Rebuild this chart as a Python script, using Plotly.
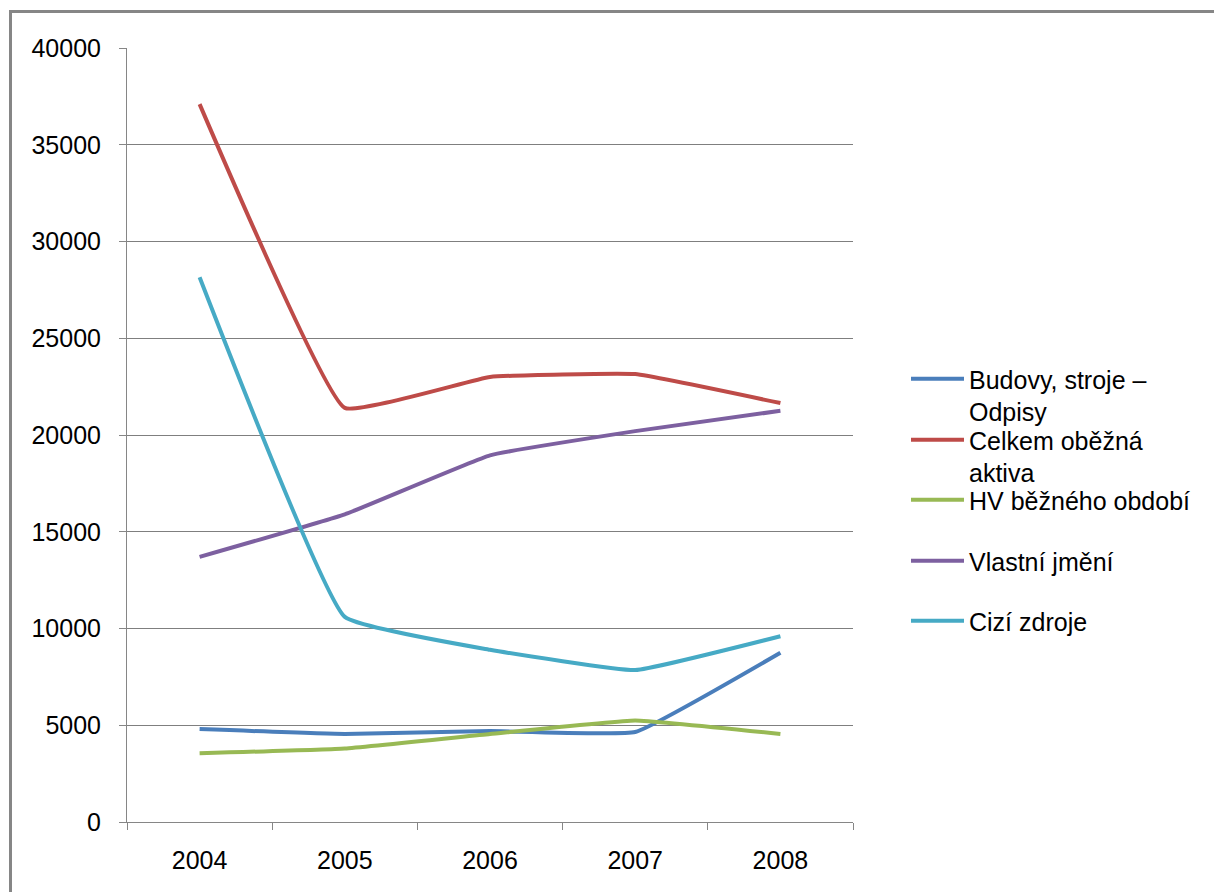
import plotly.graph_objects as go

years = ["2004", "2005", "2006", "2007", "2008"]

budovy_odpisy = [4800, 4550, 4700, 4650, 8750]
obezna_aktiva = [37100, 21400, 23000, 23150, 21650]
hv_obdobi = [3550, 3800, 4550, 5250, 4550]
vlastni_jmeni = [13700, 15900, 18950, 20200, 21250]
cizi_zdroje = [28150, 10600, 8900, 7850, 9600]

series_names = [
    "Budovy, stroje –<br>Odpisy",
    "Celkem oběžná<br>aktiva",
    "HV běžného období",
    "Vlastní jmění",
    "Cizí zdroje",
]
series_values = [budovy_odpisy, obezna_aktiva, hv_obdobi, vlastni_jmeni, cizi_zdroje]
series_colors = ["#4A7EBB", "#BE4B48", "#98B954", "#7D60A0", "#46AAC5"]

# plot area in pixels (page is 1214 x 892)
W, H = 1214, 892
L, R, T, B = 127, 853, 48, 822
pw, ph = R - L, B - T

def px_x(x):
    return (x - L) / pw

def px_y(y):
    return (B - y) / ph

legend_ids = ["legend", "legend2", "legend3", "legend4", "legend5"]
legend_rows = [380, 441, 501, 562, 622]

fig = go.Figure()
for name, vals, col, lid in zip(series_names, series_values, series_colors, legend_ids):
    fig.add_trace(go.Scatter(
        x=years, y=vals, name=name, mode="lines",
        line=dict(color=col, width=4, shape="spline", smoothing=0.3),
        legend=lid,
    ))

font_family = "Liberation Sans, Arial, sans-serif"
layout_legends = {}
for lid, row in zip(legend_ids, legend_rows):
    layout_legends[lid] = dict(
        x=px_x(906), y=px_y(row - 24), xanchor="left", yanchor="top",
        font=dict(family=font_family, size=25, color="#000000"),
        bgcolor="rgba(0,0,0,0)", borderwidth=0, valign="top",
        itemwidth=53, tracegroupgap=0,
    )

fig.update_layout(
    width=W, height=H,
    margin=dict(l=L, r=W - R, t=T, b=H - B, pad=0),
    paper_bgcolor="white", plot_bgcolor="white",
    font=dict(family=font_family, size=25, color="#000000"),
    showlegend=True,
    xaxis=dict(
        type="category", tickson="boundaries",
        showgrid=False, showline=True, linecolor="#868686", linewidth=1,
        ticks="outside", ticklen=7, tickcolor="#868686", tickwidth=1,
        tickfont=dict(size=25), ticklabelstandoff=16,
        range=[-0.5, 4.5], zeroline=False,
    ),
    yaxis=dict(
        range=[0, 40000], dtick=5000, tickformat="d",
        showgrid=True, gridcolor="#7F7F7F", gridwidth=1.2,
        showline=True, linecolor="#868686", linewidth=1,
        ticks="outside", ticklen=7, tickcolor="#868686", tickwidth=1,
        tickfont=dict(size=25), ticklabelstandoff=13, zeroline=False,
    ),
    shapes=[dict(
        type="rect", xref="paper", yref="paper",
        x0=px_x(10.5), x1=px_x(1240), y0=px_y(910), y1=px_y(11.5),
        line=dict(color="#868686", width=3), fillcolor="rgba(0,0,0,0)",
        layer="below",
    )],
    **layout_legends,
)

fig.write_html("out.html")
